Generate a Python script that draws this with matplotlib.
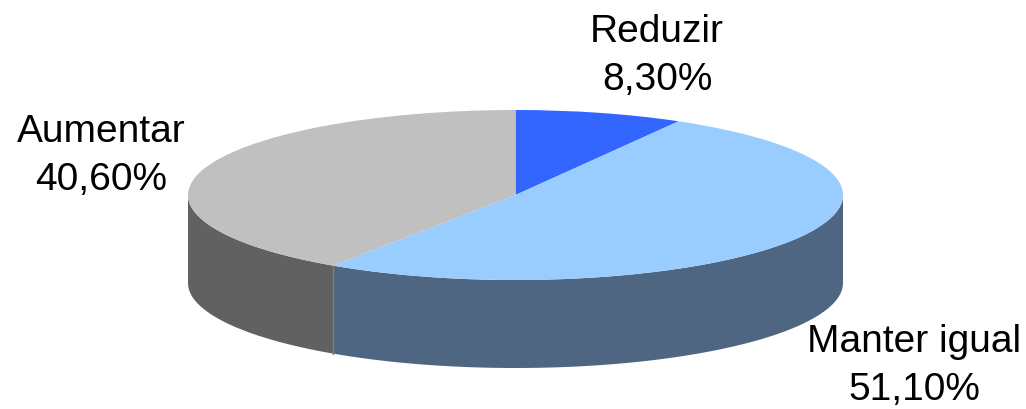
import numpy as np
import matplotlib
matplotlib.use("Agg")
import matplotlib.pyplot as plt

categories = ["Reduzir", "Manter igual", "Aumentar"]
values = [8.3, 51.1, 40.6]
value_labels = ["8,30%", "51,10%", "40,60%"]
top_colors = ["#3366FF", "#99CCFF", "#C0C0C0"]
side_colors = ["#1F3D99", "#4F6682", "#616161"]

W, H = 1026, 409
cx, cy, rx, ry, depth = 515.5, 195.0, 327.5, 85.0, 88.0

plt.rcParams["font.family"] = ["Liberation Sans", "DejaVu Sans"]
fig = plt.figure(figsize=(W / 100, H / 100), dpi=100)
ax = fig.add_axes([0, 0, 1, 1])

ax.pie(values, colors=top_colors, startangle=90, counterclock=False, radius=1,
       wedgeprops=dict(linewidth=0), normalize=True)
ax.set_aspect("auto")
ax.set_xlim(-cx / rx, (W - cx) / rx)
ax.set_ylim((cy - H) / ry, cy / ry)

# side wall: only the front half of the ellipse (angles past the right and left extremes)
d = depth / ry
edges = np.concatenate([[0], np.cumsum(values)]) / sum(values) * 2 * np.pi
for a0, a1, c in zip(edges[:-1], edges[1:], side_colors):
    lo, hi = max(a0, np.pi / 2), min(a1, 3 * np.pi / 2)
    if hi <= lo:
        continue
    t = np.linspace(lo, hi, 200)
    x, y = np.sin(t), np.cos(t)
    ax.fill(np.r_[x, x[::-1]], np.r_[y, y[::-1] - d], color=c, lw=0, zorder=0.5)
for a in edges[1:-1]:
    if np.pi / 2 < a < 3 * np.pi / 2:
        ax.plot([np.sin(a)] * 2, [np.cos(a), np.cos(a) - d], color="#7F7F7F", lw=1, zorder=0.6)

def px_text(px, py, s):
    ax.text((px - cx) / rx, (cy - py) / ry, s, ha="center", va="center",
            fontsize=28, color="black", linespacing=1.45)

px_text(657, 56, f"{categories[0]}\n{value_labels[0]}")
px_text(914, 366, f"{categories[1]}\n{value_labels[1]}")
px_text(101, 156, f"{categories[2]}\n{value_labels[2]}")

fig.savefig("out.png", dpi=100, facecolor="white")
